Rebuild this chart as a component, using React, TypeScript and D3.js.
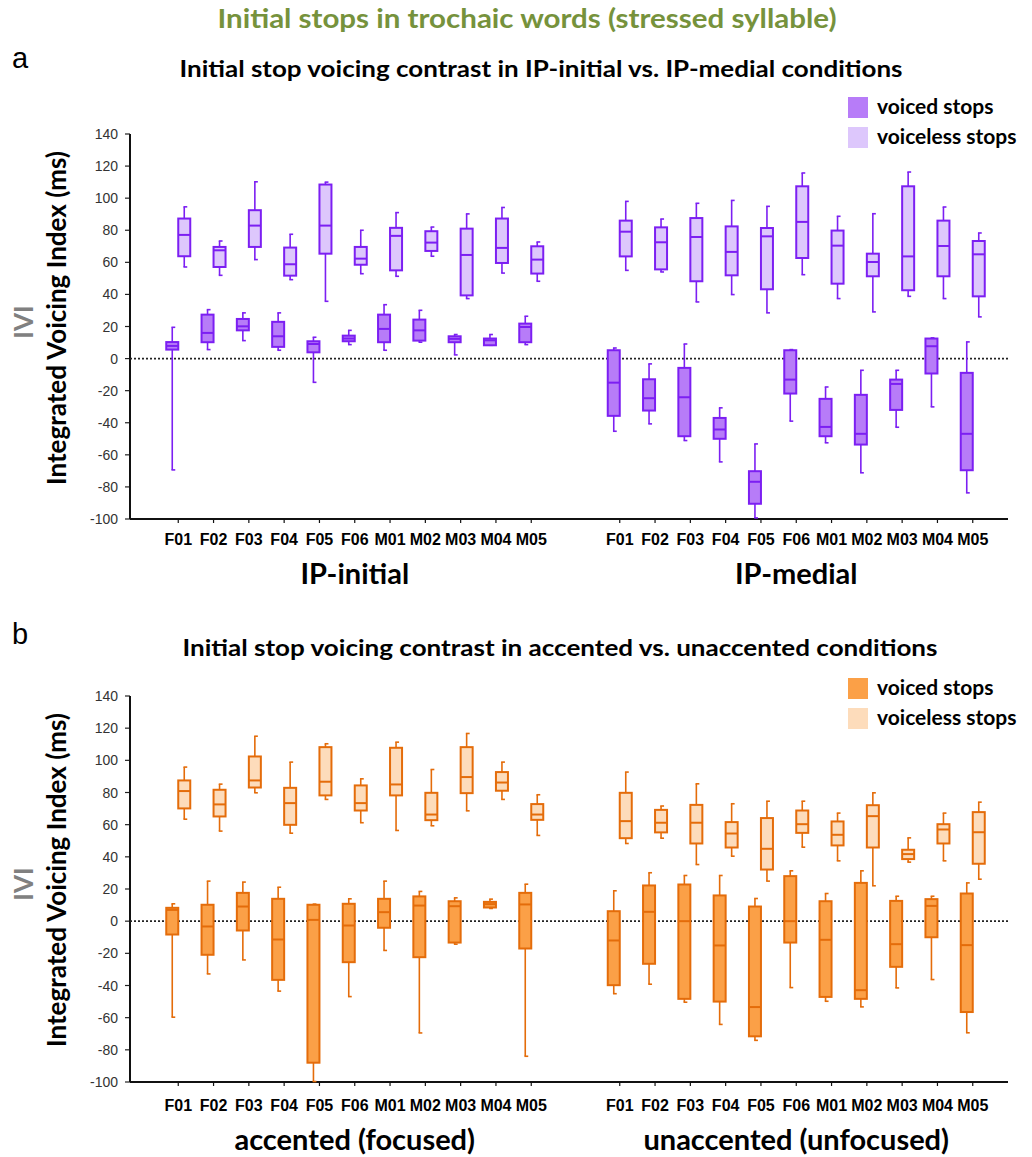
import React from "react";
import * as d3 from "d3";

// each entry: [lower whisker, Q1, median, Q3, upper whisker]
type Stat = [number, number, number, number, number];

const subjects = ["F01", "F02", "F03", "F04", "F05", "F06", "M01", "M02", "M03", "M04", "M05"];
const yTickValues = [-100, -80, -60, -40, -20, 0, 20, 40, 60, 80, 100, 120, 140];

// panel a
const ipInitialVoiced: Stat[] = [
  [-69.4, 5.6, 7.9, 10.3, 19.5],
  [5.6, 10.2, 16, 27.4, 30.5],
  [11.2, 17.6, 20.1, 24.7, 28.5],
  [5.2, 7.3, 13.9, 22.9, 28.5],
  [-14.8, 3.9, 9.1, 10.8, 13.3],
  [8.7, 10.8, 12.5, 14.3, 17.6],
  [5.2, 10.2, 18.5, 27.4, 33.6],
  [10.2, 11.2, 17.6, 24.3, 30.1],
  [2.3, 10.2, 12.3, 13.9, 15],
  [8.3, 8.3, 11.4, 12.5, 15],
  [8.7, 10.2, 19.7, 21.8, 26.4],
];
const ipInitialVoiceless: Stat[] = [
  [57.1, 63.8, 77.1, 87.3, 94.6],
  [51.9, 57.1, 67.5, 69.6, 73.3],
  [61.7, 69.6, 82.9, 92.5, 110.2],
  [49.2, 51.7, 58.8, 69.2, 77.5],
  [35.7, 65.4, 82.9, 108.5, 110],
  [52.9, 58.5, 62.3, 69.6, 80],
  [51.3, 55, 76.5, 81.5, 91],
  [63.8, 67.1, 72.3, 79.4, 82],
  [37.4, 39.4, 64.6, 81, 90.2],
  [53.3, 59.6, 69, 87.3, 94.2],
  [48.2, 53, 61.7, 70, 72.7],
];
const ipMedialVoiced: Stat[] = [
  [-45.3, -35.7, -15, 5.2, 6.6],
  [-40.7, -32.4, -24.7, -12.9, -3.3],
  [-51.1, -48.4, -24.1, -5.8, 9.1],
  [-64.4, -50, -44.2, -37, -30.7],
  [-99.3, -90.5, -76.8, -70.2, -53.2],
  [-39, -21.8, -13.1, 5.2, 5.6],
  [-52.5, -48.4, -42.6, -25.1, -17.7],
  [-71.2, -53.6, -46.9, -22.6, -7.3],
  [-42.8, -32, -15.8, -13.1, -7.3],
  [-30.1, -9.3, 7.7, 12.5, 12.9],
  [-83.7, -69.6, -46.9, -8.9, 10.4],
];
const ipMedialVoiceless: Stat[] = [
  [55, 63.7, 79.1, 86, 98],
  [54, 55.6, 72.5, 81.8, 87],
  [35.3, 48.2, 75.8, 87.6, 96.8],
  [39.9, 51.9, 66.5, 82.4, 98.6],
  [28.5, 43.2, 76.2, 81.4, 94.9],
  [52.3, 62.7, 85.2, 107.4, 115.7],
  [37.4, 46.7, 70.4, 79.8, 88.7],
  [29.1, 51.3, 60.2, 65.4, 90.3],
  [38.8, 42.6, 63.7, 107.4, 116.3],
  [37.4, 51.3, 70.2, 86, 94.5],
  [26, 38.8, 65, 73.3, 78.3],
];

// panel b
const accentedVoiced: Stat[] = [
  [-59.7, -8.3, 7, 8.3, 10.8],
  [-32.8, -20.9, -3.3, 10.2, 24.9],
  [-24.1, -5.8, 9.1, 17.6, 24.3],
  [-43.5, -36.5, -11.4, 13.9, 21.1],
  [-99.7, -88, 0.8, 10.2, 10.6],
  [-46.9, -25.5, -2.7, 10.8, 13.9],
  [-18.2, -4.1, 5.6, 13.9, 24.9],
  [-69.5, -22.4, 9.7, 15.4, 18.5],
  [-14.3, -13.3, 9.3, 12.4, 14.5],
  [7.9, 8.5, 10.6, 12, 13.7],
  [-84, -17, 10.4, 17.6, 23],
];
const accentedVoiceless: Stat[] = [
  [63.4, 70.1, 80.9, 87.5, 95.8],
  [56, 65.1, 72.6, 81.7, 85.2],
  [79.8, 83.1, 87.5, 102.4, 115],
  [54.7, 59.9, 73.4, 82.9, 98.9],
  [75.7, 78.2, 86.7, 108.2, 110.3],
  [61.2, 68.8, 73.4, 84.4, 88.5],
  [56.4, 78.2, 85, 107.8, 111.3],
  [59.3, 62.8, 66.3, 79.8, 94.3],
  [68.6, 79.6, 89.6, 108.2, 116.7],
  [75.7, 81.1, 86.2, 92.7, 98.9],
  [53.3, 63, 66.3, 72.8, 78.6],
];
const unaccentedVoiced: Stat[] = [
  [-45.1, -39.8, -12, 6.2, 18.9],
  [-39.2, -26.5, 5.8, 22.2, 30.1],
  [-50.4, -48.3, 0, 22.8, 28.4],
  [-64.2, -50, -15.1, 16, 28.4],
  [-74.1, -71.6, -53.4, 9.1, 14.1],
  [-41.3, -13.3, 0, 28, 31.3],
  [-49.8, -47.1, -11.6, 12.4, 17.2],
  [-53.3, -48.3, -42.9, 23.8, 31.3],
  [-41.5, -28.4, -14.3, 12.6, 15.5],
  [-36.3, -10, 9.5, 13.7, 15.5],
  [-69.4, -56.5, -14.9, 17.2, 23.8],
];
const unaccentedVoiceless: Stat[] = [
  [48.3, 51.6, 62.2, 79.8, 92.7],
  [51.6, 55.2, 61.2, 69.2, 71.6],
  [35.2, 48.3, 61.2, 72.3, 85.4],
  [40.4, 45.8, 54.5, 61.6, 73],
  [24.9, 32.1, 45, 64.1, 74.6],
  [46, 54.9, 60.3, 68.8, 74.6],
  [37.5, 47.1, 53.7, 62, 67.2],
  [22, 45.8, 65.3, 72.1, 79.8],
  [36.7, 38.6, 41.7, 44.4, 51.8],
  [37.5, 48.3, 57, 60.3, 67.2],
  [26.1, 35.7, 55.3, 67.8, 74],
];

const W = 1032;
const H = 1157;
const AXIS_X = 130;
const AXIS_END = 1008;
const BOX_W = 12;
const TITLE_FONT = "Lato, 'Open Sans', sans-serif";
const TICK_FONT = "'Liberation Sans', Arial, sans-serif";

const panels = [
  {
    letter: "a",
    title: "Initial stop voicing contrast in IP-initial vs. IP-medial conditions",
    conditions: ["IP-initial", "IP-medial"],
    voiced: [ipInitialVoiced, ipMedialVoiced],
    voiceless: [ipInitialVoiceless, ipMedialVoiceless],
    yTop: 134,
    yBottom: 519,
    stroke: "#7c1ff2",
    voicedFill: "#b77cf8",
    voicelessFill: "#ddc7fc",
    letterY: 68,
    titleY: 77,
    titleX: 541,
    titleW: 723,
    legendY: 97,
    catLabelY: 545,
    groupLabelY: 584,
    yLabelY: 318,
  },
  {
    letter: "b",
    title: "Initial stop voicing contrast in accented vs. unaccented conditions",
    conditions: ["accented (focused)", "unaccented (unfocused)"],
    voiced: [accentedVoiced, unaccentedVoiced],
    voiceless: [accentedVoiceless, unaccentedVoiceless],
    yTop: 696,
    yBottom: 1082,
    stroke: "#e46c0a",
    voicedFill: "#fba047",
    voicelessFill: "#fddcbb",
    letterY: 644,
    titleY: 656,
    titleX: 560,
    titleW: 755,
    legendY: 678,
    catLabelY: 1111,
    groupLabelY: 1150,
    yLabelY: 880,
  },
];

const groupScale = d3.scaleBand<string>().domain(["0", "1"]).range([134, 1017]);
const subjScale = d3.scalePoint<string>().domain(subjects).range([-176.5, 176.5]);
const xPos = (g: number, s: string) =>
  (groupScale(String(g)) ?? 0) + groupScale.bandwidth() / 2 + (subjScale(s) ?? 0);

const BoxMark = ({ x0, st, y, fill, stroke }: any) => {
  const cx = x0 + BOX_W / 2;
  const [lo, q1, med, q3, hi] = st;
  return (
    <g>
      <line x1={cx} x2={cx} y1={y(hi)} y2={y(q3)} stroke={stroke} strokeWidth={1.6} />
      <line x1={cx} x2={cx} y1={y(q1)} y2={y(lo)} stroke={stroke} strokeWidth={1.6} />
      <line x1={cx - 0.8} x2={cx + 3} y1={y(hi)} y2={y(hi)} stroke={stroke} strokeWidth={1.6} />
      <line x1={cx - 0.8} x2={cx + 3} y1={y(lo)} y2={y(lo)} stroke={stroke} strokeWidth={1.6} />
      <rect
        x={x0}
        y={y(q3)}
        width={BOX_W}
        height={Math.max(1, y(q1) - y(q3))}
        fill={fill}
        stroke={stroke}
        strokeWidth={2}
      />
      <line x1={x0} x2={x0 + BOX_W} y1={y(med)} y2={y(med)} stroke={stroke} strokeWidth={2} />
    </g>
  );
};

const Panel = ({ p }: any) => {
  const y = d3.scaleLinear().domain([-100, 140]).range([p.yBottom, p.yTop]);
  return (
    <g>
      <text x={12} y={p.letterY} fontFamily={TICK_FONT} fontSize={29}>
        {p.letter}
      </text>
      <text
        x={p.titleX}
        y={p.titleY}
        textAnchor="middle"
        fontFamily={TITLE_FONT}
        fontWeight={700}
        fontSize={23}
        textLength={p.titleW}
        lengthAdjust="spacingAndGlyphs"
      >
        {p.title}
      </text>

      {/* legend */}
      {[
        { label: "voiced stops", fill: p.voicedFill },
        { label: "voiceless stops", fill: p.voicelessFill },
      ].map((d, i) => (
        <g key={d.label} transform={`translate(848,${p.legendY + i * 30})`}>
          <rect width={20} height={21} fill={d.fill} />
          <text x={29} y={17} fontFamily={TITLE_FONT} fontWeight={700} fontSize={21}>
            {d.label}
          </text>
        </g>
      ))}

      {/* y axis */}
      <text
        transform={`translate(33,${p.yLabelY + 4}) rotate(-90)`}
        textAnchor="middle"
        fontFamily={TITLE_FONT}
        fontWeight={700}
        fontSize={26}
        fill="#808080"
      >
        IVI
      </text>
      <text
        transform={`translate(66,${p.yLabelY}) rotate(-90)`}
        textAnchor="middle"
        fontFamily={TITLE_FONT}
        fontWeight={700}
        fontSize={26}
        textLength={334}
        lengthAdjust="spacingAndGlyphs"
      >
        Integrated Voicing Index (ms)
      </text>
      {yTickValues.map((t) => (
        <g key={t}>
          <line x1={AXIS_X - 5} x2={AXIS_X} y1={y(t)} y2={y(t)} stroke="#222" strokeWidth={1.2} />
          <text
            x={118}
            y={y(t) + 5}
            textAnchor="end"
            fontFamily={TICK_FONT}
            fontSize={14}
            fill="#333"
          >
            {t}
          </text>
        </g>
      ))}
      <line x1={AXIS_X} x2={AXIS_X} y1={p.yTop} y2={p.yBottom} stroke="#111" strokeWidth={2} />
      <line x1={AXIS_X} x2={AXIS_END} y1={p.yBottom} y2={p.yBottom} stroke="#111" strokeWidth={2} />
      <line
        x1={AXIS_X}
        x2={AXIS_END}
        y1={y(0)}
        y2={y(0)}
        stroke="#222"
        strokeWidth={1.6}
        strokeDasharray="2,2"
      />

      {/* x axis */}
      {p.conditions.map((c: string, g: number) => (
        <g key={c}>
          {subjects.map((s) => (
            <g key={s}>
              <line
                x1={xPos(g, s)}
                x2={xPos(g, s)}
                y1={p.yBottom}
                y2={p.yBottom + 4}
                stroke="#111"
                strokeWidth={1.2}
              />
              <text
                x={xPos(g, s)}
                y={p.catLabelY}
                textAnchor="middle"
                fontFamily={TICK_FONT}
                fontWeight={700}
                fontSize={16}
              >
                {s}
              </text>
            </g>
          ))}
          <text
            x={(groupScale(String(g)) ?? 0) + groupScale.bandwidth() / 2}
            y={p.groupLabelY}
            textAnchor="middle"
            fontFamily={TITLE_FONT}
            fontWeight={700}
            fontSize={29}
          >
            {c}
          </text>
        </g>
      ))}

      {/* boxes */}
      {p.conditions.map((c: string, g: number) =>
        subjects.map((s, i) => (
          <g key={`${c}-${s}`}>
            <BoxMark x0={xPos(g, s)} st={p.voiceless[g][i]} y={y} fill={p.voicelessFill} stroke={p.stroke} />
            <BoxMark
              x0={xPos(g, s) - BOX_W}
              st={p.voiced[g][i]}
              y={y}
              fill={p.voicedFill}
              stroke={p.stroke}
            />
          </g>
        ))
      )}
    </g>
  );
};

export default function App() {
  return (
    <svg
      width={W}
      height={H}
      style={{ position: "absolute", left: 0, top: 0, background: "#fff" }}
    >
      <rect width={W} height={H} fill="#fff" />
      <text
        x={527}
        y={28}
        textAnchor="middle"
        fontFamily={TITLE_FONT}
        fontWeight={700}
        fontSize={27}
        fill="#76923c"
        textLength={619}
        lengthAdjust="spacingAndGlyphs"
      >
        Initial stops in trochaic words (stressed syllable)
      </text>
      {panels.map((p) => (
        <Panel key={p.letter} p={p} />
      ))}
    </svg>
  );
}
